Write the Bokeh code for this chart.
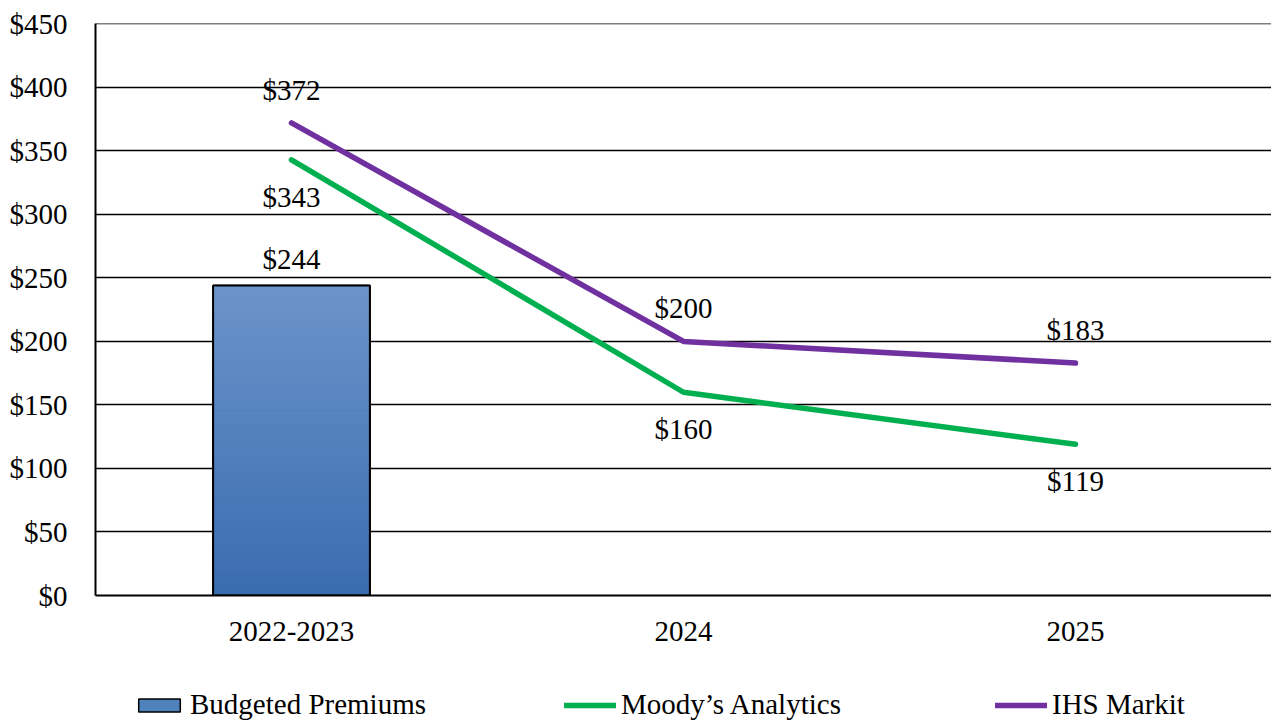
import numpy as np
from bokeh.plotting import figure
from bokeh.layouts import column
from bokeh.models import (Range1d, FixedTicker, NumeralTickFormatter, Legend,
                          LegendItem, ColumnDataSource)
from bokeh.core.properties import value
from bokeh.embed import file_html
from bokeh.resources import INLINE

# ---- data ----
periods = ["2022-2023", "2024", "2025"]
budgeted_periods = ["2022-2023"]
budgeted_premiums = [244]
moodys = [343, 160, 119]
ihs_markit = [372, 200, 183]
y_ticks = [0, 50, 100, 150, 200, 250, 300, 350, 400, 450]

FONT = "Liberation Serif"
FS = "29px"
GREEN = "#00B050"
PURPLE = "#7030A0"
BAR_BASE = "#4F81BD"
BAR_TOP = np.array([108, 148, 202])
BAR_BOTTOM = np.array([58, 108, 176])

p = figure(x_range=periods, y_range=Range1d(0, 450.3),
           width=1271, height=650, output_backend="svg",
           toolbar_location=None,
           min_border_left=95, min_border_right=0,
           min_border_top=23, min_border_bottom=55)
p.outline_line_color = None
p.background_fill_color = "white"
p.border_fill_color = "white"

# grid
p.xgrid.grid_line_color = None
p.ygrid.grid_line_color = "black"
p.ygrid.grid_line_width = 1.6
p.yaxis.ticker = FixedTicker(ticks=y_ticks)
p.yaxis.formatter = NumeralTickFormatter(format="$0")

for ax in (p.xaxis[0], p.yaxis[0]):
    ax.axis_line_color = "black"
    ax.axis_line_width = 2
    ax.major_tick_line_color = None
    ax.minor_tick_line_color = None
    ax.major_label_text_font = FONT
    ax.major_label_text_font_size = FS
    ax.major_label_text_color = "black"
p.yaxis.major_label_standoff = 22
p.xaxis.major_label_standoff = 20

# bar: outlined base, then a vertical gradient made of slices
bar_src = ColumnDataSource(dict(x=budgeted_periods, top=budgeted_premiums))
p.vbar(x="x", top="top", width=0.4, source=bar_src,
       fill_color=BAR_BASE, line_color="black", line_width=1.5)

n_slices = 60
for k in range(n_slices):
    lo = [v * k / n_slices for v in budgeted_premiums]
    hi = [v * (k + 1) / n_slices for v in budgeted_premiums]
    t = (k + 0.5) / n_slices
    rgb = BAR_BOTTOM + (BAR_TOP - BAR_BOTTOM) * t
    col = "#%02x%02x%02x" % tuple(int(round(c)) for c in rgb)
    p.vbar(x=budgeted_periods, bottom=lo, top=hi, width=0.4,
           fill_color=col, line_color=col, line_width=1)

p.vbar(x="x", top="top", width=0.4, source=bar_src,
       fill_color=None, line_color="black", line_width=2)

# forecast lines
p.line(periods, moodys, line_color=GREEN, line_width=5.5, line_cap="round")
p.line(periods, ihs_markit, line_color=PURPLE, line_width=5.5, line_cap="round")

# value labels
def labels(xs, ys, offset):
    p.text(x=xs, y=ys, text=["$%d" % v for v in ys],
           text_font=value(FONT), text_font_size=FS, text_color="black",
           text_align="center", text_baseline="middle", y_offset=offset)

labels(budgeted_periods, budgeted_premiums, -27)
labels(periods, ihs_markit, -33)
labels(periods, moodys, 37)

# ---- legend strip underneath ----
# hidden copies of the series supply the legend swatches
lg = figure(x_range=p.x_range, y_range=Range1d(0, 450),
            width=1271, height=71, output_backend="svg",
            toolbar_location=None, min_border=0)
lg.axis.visible = False
lg.grid.visible = False
lg.outline_line_color = None
lg.border_fill_color = "white"
lg.background_fill_color = "white"

r_bar = lg.vbar(x=budgeted_periods, top=budgeted_premiums, width=0.4,
                fill_color=BAR_BASE, line_color="black", line_width=1.5,
                visible=False)
r_moodys = lg.line(periods, moodys, line_color=GREEN, line_width=5.5,
                   line_cap="round", visible=False)
r_ihs = lg.line(periods, ihs_markit, line_color=PURPLE, line_width=5.5,
                line_cap="round", visible=False)

legend = Legend(items=[
    LegendItem(label="Budgeted Premiums", renderers=[r_bar]),
    LegendItem(label="Moody\u2019s Analytics", renderers=[r_moodys]),
    LegendItem(label="IHS Markit", renderers=[r_ihs]),
], orientation="horizontal", location=(38, 0))
legend.click_policy = "none"
legend.inactive_fill_alpha = 0
legend.label_text_font = FONT
legend.label_text_font_size = FS
legend.label_text_color = "black"
legend.glyph_width = 52
legend.glyph_height = 16
legend.label_standoff = 5
legend.label_width = 250
legend.spacing = 124
legend.padding = 0
legend.margin = 0
legend.border_line_color = None
legend.background_fill_alpha = 0
lg.add_layout(legend, "center")

layout = column(p, lg, spacing=0)
open("out.html", "w").write(file_html(layout, INLINE))
